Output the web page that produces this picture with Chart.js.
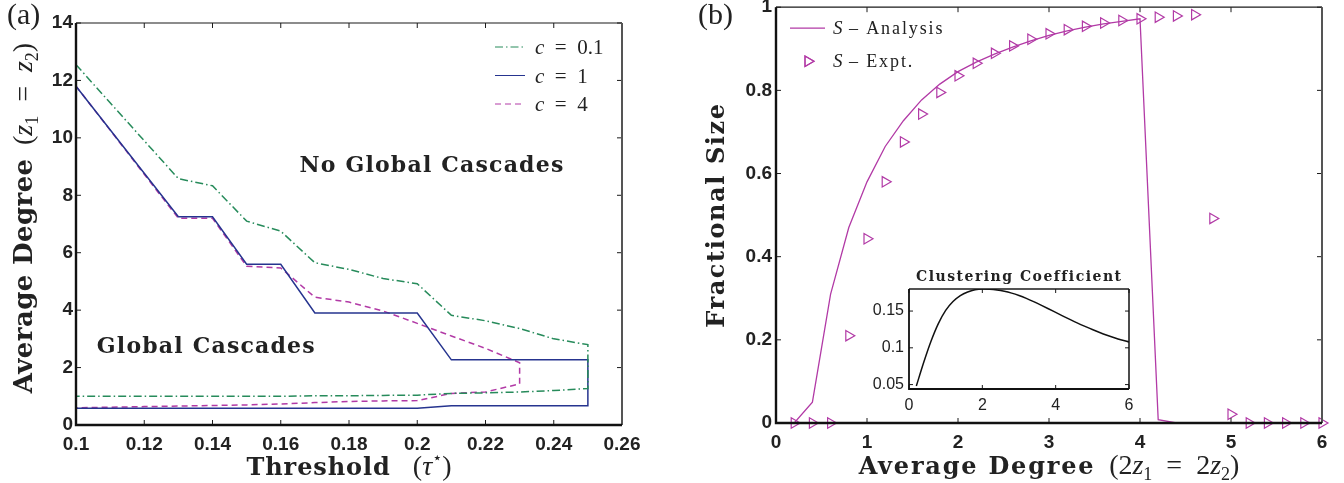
<!DOCTYPE html>
<html lang="en">
<head>
<meta charset="UTF-8">
<title>Global cascades and fractional size</title>
<script src="https://cdn.jsdelivr.net/npm/chart.js"></script>
<style>
  body { margin: 0; background: #fff; }
  .wrap { position: relative; width: 1344px; height: 483px; overflow: hidden; }
  canvas { position: absolute; top: 0; }
  #chartA { left: 0; }
  #chartB { left: 672px; }
  #inset { left: 860px; top: 262px; }
</style>
</head>
<body>
<div class="wrap">
  <canvas id="chartA" width="672" height="483"></canvas>
  <canvas id="chartB" width="672" height="483"></canvas>
  <canvas id="inset" width="280" height="160"></canvas>
</div>
<script>
// ---- panel (a): cascade window boundaries ----
const tau = [0.10, 0.11, 0.12, 0.13, 0.14, 0.15, 0.16, 0.17, 0.18, 0.19, 0.20, 0.21, 0.22, 0.23, 0.24, 0.25];
const upperC01 = [12.55, 11.22, 9.9, 8.58, 8.33, 7.1, 6.75, 5.65, 5.42, 5.1, 4.92, 3.82, 3.63, 3.36, 3.0, 2.8];
const lowerC01 = [1.0, 1.0, 1.0, 1.0, 1.0, 1.0, 1.0, 1.02, 1.02, 1.03, 1.04, 1.1, 1.12, 1.15, 1.2, 1.27];
const upperC1 = [11.8, 10.28, 8.77, 7.25, 7.25, 5.6, 5.6, 3.9, 3.9, 3.9, 3.9, 2.27, 2.27, 2.27, 2.27, 2.27];
const lowerC1 = [0.58, 0.58, 0.58, 0.58, 0.58, 0.58, 0.58, 0.58, 0.58, 0.58, 0.58, 0.67, 0.67, 0.67, 0.67, 0.67];
const tauC4 = [0.10, 0.11, 0.12, 0.13, 0.14, 0.15, 0.16, 0.17, 0.18, 0.19, 0.20, 0.21, 0.22, 0.23];
const upperC4 = [11.8, 10.27, 8.73, 7.2, 7.2, 5.53, 5.47, 4.45, 4.28, 3.97, 3.54, 3.1, 2.67, 2.17];
const lowerC4 = [0.6, 0.62, 0.64, 0.66, 0.68, 0.7, 0.73, 0.78, 0.82, 0.84, 0.85, 1.1, 1.15, 1.43];
const cLabels = ['0.1', '1', '4'];
const xTicksA = [0.1, 0.12, 0.14, 0.16, 0.18, 0.2, 0.22, 0.24, 0.26];
const yTicksA = [0, 2, 4, 6, 8, 10, 12, 14];

// ---- panel (b): fractional size vs average degree ----
const degree = [0.2, 0.4, 0.6, 0.8, 1.0, 1.2, 1.4, 1.6, 1.8, 2.0, 2.2, 2.4, 2.6, 2.8, 3.0,
                3.2, 3.4, 3.6, 3.8, 4.0, 4.2, 4.4, 4.6, 4.8, 5.0, 5.2, 5.4, 5.6, 5.8, 6.0];
const sAnalysis = [0, 0.05, 0.31, 0.47, 0.58, 0.665, 0.727, 0.777, 0.815, 0.845, 0.868, 0.887, 0.904, 0.919, 0.932,
                   0.943, 0.952, 0.96, 0.966, 0.972, 0.008, 0, 0, 0, 0, 0, 0, 0, 0, 0];
const sExpt = [0, 0, 0, 0.21, 0.443, 0.58, 0.676, 0.743, 0.795, 0.835, 0.865, 0.889, 0.907, 0.923, 0.936,
               0.946, 0.954, 0.962, 0.968, 0.972, 0.976, 0.979, 0.982, 0.492, 0.021, 0, 0, 0, 0, 0];
const xTicksB = [0, 1, 2, 3, 4, 5, 6];
const yTicksB = [0, 0.2, 0.4, 0.6, 0.8, 1];

// ---- inset: clustering coefficient ----
const clustering = [0.048, 0.080, 0.109, 0.133, 0.151, 0.163, 0.171, 0.176, 0.179, 0.180, 0.1798, 0.1788, 0.177, 0.1744, 0.1711,
                    0.1672, 0.1628, 0.1581, 0.1532, 0.1482, 0.1432, 0.1383, 0.1336, 0.1292, 0.1249, 0.1209, 0.1172, 0.1138, 0.1107, 0.1079];
const xTicksIn = [0, 2, 4, 6];
const yTicksIn = [0.05, 0.1, 0.15];

const GREEN = '#278b5b', BLUE = '#26348f', MAGENTA = '#b23aa6', INK = '#222';
const MATH = '28px "Liberation Serif"', MATH_I = 'italic 28px "Liberation Serif"', SUB = '18px "Liberation Serif"';

function boundary(xs, up, low) {
    const top = xs.map((x, i) => ({ x: x, y: up[i] }));
    const bottom = xs.map((x, i) => ({ x: x, y: low[i] })).reverse();
    return top.concat(bottom);
}

function points(xs, ys) {
    return xs.map((x, i) => ({ x: x, y: ys[i] }));
}

// text made of pieces in different fonts (bold words + italic maths)
function drawRich(ctx, parts, x, y, align, angle) {
    ctx.save();
    ctx.translate(x, y);
    if (angle) ctx.rotate(angle);
    let w = 0;
    parts.forEach(p => {
        ctx.font = p.f;
        ctx.letterSpacing = '0px';
        p.w = ctx.measureText(p.t).width + (p.ls || 0) * p.t.length;
        w += p.w;
    });
    let cx = align === 'center' ? -w / 2 : 0;
    ctx.fillStyle = INK;
    ctx.textAlign = 'left';
    ctx.textBaseline = 'alphabetic';
    parts.forEach(p => {
        ctx.font = p.f;
        ctx.letterSpacing = (p.ls || 0) + 'px';
        ctx.fillText(p.t, cx, p.dy || 0);
        cx += p.w;
    });
    ctx.restore();
}

// MATLAB style box with inward ticks on all four sides
const frame = {
    id: 'frame',
    afterDraw(chart, args, o) {
        const { ctx, chartArea: a, scales: { x, y } } = chart;
        const L = o.tick || 5;
        ctx.save();
        ctx.strokeStyle = '#1a1a1a';
        ctx.lineWidth = 1;
        ctx.beginPath();
        x.ticks.forEach(t => {
            const p = x.getPixelForValue(t.value);
            ctx.moveTo(p, a.bottom); ctx.lineTo(p, a.bottom - L);
            ctx.moveTo(p, a.top); ctx.lineTo(p, a.top + L);
        });
        y.ticks.forEach(t => {
            const p = y.getPixelForValue(t.value);
            ctx.moveTo(a.left, p); ctx.lineTo(a.left + L, p);
            ctx.moveTo(a.right, p); ctx.lineTo(a.right - L, p);
        });
        ctx.stroke();
        ctx.lineWidth = o.top || 1.2;
        ctx.beginPath();
        ctx.moveTo(a.left, a.top); ctx.lineTo(a.right, a.top);
        ctx.stroke();
        ctx.strokeStyle = o.rightColor || '#555';
        ctx.lineWidth = o.right || 2;
        ctx.beginPath();
        ctx.moveTo(a.right, a.top); ctx.lineTo(a.right, a.bottom);
        ctx.stroke();
        ctx.strokeStyle = '#111';
        ctx.lineWidth = o.axis || 2.4;
        ctx.beginPath();
        ctx.moveTo(a.left, a.top); ctx.lineTo(a.left, a.bottom); ctx.lineTo(a.right, a.bottom);
        ctx.stroke();
        ctx.restore();
    }
};

function axis(min, max, ticks, size, font, pad) {
    return {
        type: 'linear', min: min, max: max,
        afterBuildTicks: s => { s.ticks = ticks.map(v => ({ value: v })); },
        afterFit: s => {
            if (s.isHorizontal()) s.height = size; else s.width = size;
            s.paddingTop = s.paddingBottom = s.paddingLeft = s.paddingRight = 0;
        },
        grid: { display: false, drawTicks: false },
        border: { display: false },
        ticks: {
            font: font, color: INK, padding: pad, autoSkip: false, maxRotation: 0,
            callback: v => String(Number(v.toFixed(2)))
        }
    };
}

const tickFont = { family: '"Liberation Sans", Arial, sans-serif', weight: 'bold', size: 19 };

// ---------- panel (a) ----------
const decorA = {
    id: 'decorA',
    afterDraw(chart) {
        const { ctx, chartArea: a, scales: { x, y } } = chart;
        // legend
        chart.data.datasets.forEach((ds, i) => {
            const yy = a.top + 24 + i * 28.5;
            ctx.save();
            ctx.strokeStyle = ds.borderColor;
            ctx.lineWidth = ds.borderWidth;
            ctx.setLineDash(ds.borderDash || []);
            ctx.beginPath();
            ctx.moveTo(a.right - 127, yy); ctx.lineTo(a.right - 97, yy);
            ctx.stroke();
            ctx.restore();
            drawRich(ctx, [
                { t: 'c', f: 'italic 21px "Liberation Serif"' },
                { t: '\u2002=\u2002' + cLabels[i], f: '21px "Liberation Serif"' }
            ], a.right - 87, yy + 7, 'left');
        });
        // region labels
        drawRich(ctx, [{ t: 'No Global Cascades', f: 'bold 22px "DejaVu Serif"', ls: 1.2 }],
            x.getPixelForValue(0.2043), y.getPixelForValue(8.8), 'center');
        drawRich(ctx, [{ t: 'Global Cascades', f: 'bold 22px "DejaVu Serif"', ls: 1.2 }],
            x.getPixelForValue(0.1382), y.getPixelForValue(2.5), 'center');
        // axis titles
        drawRich(ctx, [
            { t: 'Threshold\u2002 ', f: 'bold 24px "DejaVu Serif"', ls: 0.9 },
            { t: '(', f: MATH }, { t: 'τ', f: MATH_I },
            { t: '⋆', f: '16px "DejaVu Sans"', dy: -12 }, { t: ')', f: MATH }
        ], (a.left + a.right) / 2, 475, 'center');
        drawRich(ctx, [
            { t: 'Average Degree\u2002', f: 'bold 26px "DejaVu Serif"', ls: 0.4 },
            { t: '(', f: MATH }, { t: 'z', f: MATH_I }, { t: '1', f: SUB, dy: 6 },
            { t: '\u2002=\u2002', f: MATH }, { t: 'z', f: MATH_I }, { t: '2', f: SUB, dy: 6 },
            { t: ')', f: MATH }
        ], 32, 218, 'center', -Math.PI / 2);
        drawRich(ctx, [{ t: '(a)', f: '30px "Liberation Serif"' }], 7, 24, 'left');
    }
};

new Chart(document.getElementById('chartA'), {
    type: 'scatter',
    data: {
        datasets: [{
            label: 'c = 0.1',
            data: boundary(tau, upperC01, lowerC01),
            borderColor: GREEN,
            borderDash: [8, 3, 1.5, 3]
        }, {
            label: 'c = 1',
            data: boundary(tau, upperC1, lowerC1),
            borderColor: BLUE
        }, {
            label: 'c = 4',
            data: boundary(tauC4, upperC4, lowerC4),
            borderColor: MAGENTA,
            borderDash: [6, 4]
        }]
    },
    options: {
        responsive: false,
        animation: false,
        layout: { padding: { top: 23, right: 50, left: 0, bottom: 0 } },
        datasets: { scatter: { showLine: true, borderWidth: 1.5, pointRadius: 0, pointHoverRadius: 0 } },
        plugins: { legend: { display: false }, tooltip: { enabled: false }, frame: { tick: 5 } },
        scales: {
            x: axis(0.1, 0.26, xTicksA, 58, tickFont, 8),
            y: axis(0, 14, yTicksA, 76, tickFont, 3)
        }
    },
    plugins: [frame, decorA]
});

// ---------- panel (b) ----------
const decorB = {
    id: 'decorB',
    afterDraw(chart) {
        const { ctx, chartArea: a } = chart;
        const legendFont = '18px "Liberation Serif"', legendItalic = 'italic 19px "Liberation Serif"';
        ctx.save();
        ctx.strokeStyle = MAGENTA;
        ctx.lineWidth = 1.3;
        ctx.beginPath();
        ctx.moveTo(a.left + 14, a.top + 21); ctx.lineTo(a.left + 49, a.top + 21);
        ctx.stroke();
        ctx.lineWidth = 1.2;
        Chart.helpers.drawPoint(ctx, { pointStyle: 'triangle', rotation: 90, radius: 6, borderWidth: 1.2 },
            a.left + 32, a.top + 54);
        ctx.stroke();
        ctx.restore();
        drawRich(ctx, [{ t: 'S', f: legendItalic }, { t: ' \u2013 Analysis', f: legendFont, ls: 1.9 }],
            a.left + 57, a.top + 27, 'left');
        drawRich(ctx, [{ t: 'S', f: legendItalic }, { t: ' \u2013 Expt.', f: legendFont, ls: 1.9 }],
            a.left + 57, a.top + 60, 'left');
        drawRich(ctx, [
            { t: 'Average Degree\u2002', f: 'bold 24px "DejaVu Serif"', ls: 1.8 },
            { t: '(2', f: MATH }, { t: 'z', f: MATH_I }, { t: '1', f: SUB, dy: 6 },
            { t: '\u2002=\u20022', f: MATH }, { t: 'z', f: MATH_I }, { t: '2', f: SUB, dy: 6 },
            { t: ')', f: MATH }
        ], (a.left + a.right) / 2, 474, 'center');
        drawRich(ctx, [{ t: 'Fractional Size', f: 'bold 24px "DejaVu Serif"', ls: 1.6 }],
            52, (a.top + a.bottom) / 2, 'center', -Math.PI / 2);
        drawRich(ctx, [{ t: '(b)', f: '30px "Liberation Serif"' }], 26, 24, 'left');
    }
};

new Chart(document.getElementById('chartB'), {
    type: 'scatter',
    data: {
        datasets: [{
            label: 'S - Analysis',
            data: points(degree, sAnalysis),
            showLine: true,
            borderColor: MAGENTA,
            borderWidth: 1.3,
            pointRadius: 0,
            pointHoverRadius: 0
        }, {
            label: 'S - Expt.',
            data: points(degree, sExpt),
            showLine: false,
            pointStyle: 'triangle',
            pointRotation: 90,
            pointRadius: 6,
            pointBorderWidth: 1.2,
            pointBorderColor: MAGENTA,
            pointBackgroundColor: 'rgba(0,0,0,0)',
            clip: false
        }]
    },
    options: {
        responsive: false,
        animation: false,
        layout: { padding: { top: 4, right: 22, left: 0, bottom: 0 } },
        plugins: { legend: { display: false }, tooltip: { enabled: false }, frame: { tick: 5 } },
        scales: {
            x: axis(0, 6, xTicksB, 60, tickFont, 8),
            y: axis(0, 1, yTicksB, 104, tickFont, 4)
        }
    },
    plugins: [frame, decorB]
});

// ---------- inset ----------
const decorIn = {
    id: 'decorIn',
    afterDraw(chart) {
        const { ctx, chartArea: a } = chart;
        drawRich(ctx, [{ t: 'Clustering Coefficient', f: 'bold 14px "DejaVu Serif"', ls: 1.5 }],
            (a.left + a.right) / 2, 19, 'center');
    }
};

new Chart(document.getElementById('inset'), {
    type: 'scatter',
    data: {
        datasets: [{
            label: 'Clustering Coefficient',
            data: points(degree, clustering),
            showLine: true,
            borderColor: '#111',
            borderWidth: 1.5,
            cubicInterpolationMode: 'monotone',
            pointRadius: 0,
            pointHoverRadius: 0
        }]
    },
    options: {
        responsive: false,
        animation: false,
        layout: { padding: { top: 27, right: 11, left: 0, bottom: 0 } },
        plugins: {
            legend: { display: false }, tooltip: { enabled: false },
            frame: { tick: 4, top: 1.5, right: 1.5, rightColor: '#111', axis: 1.8 }
        },
        scales: {
            x: axis(0, 6, xTicksIn, 33, { family: '"Liberation Sans", Arial, sans-serif', size: 16 }, 7),
            y: axis(0.044, 0.18, yTicksIn, 49, { family: '"Liberation Sans", Arial, sans-serif', size: 16 }, 5)
        }
    },
    plugins: [frame, decorIn]
});
</script>
</body>
</html>
